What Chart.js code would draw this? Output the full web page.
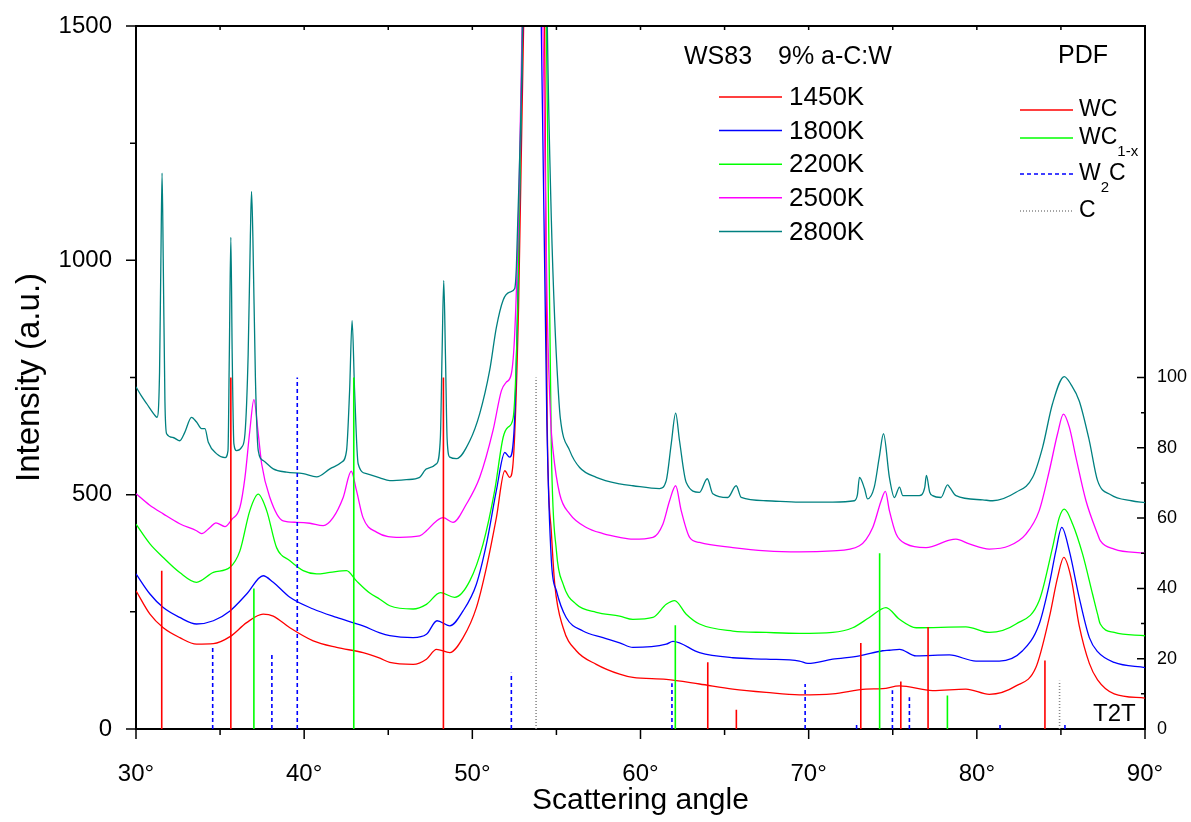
<!DOCTYPE html>
<html>
<head>
<meta charset="utf-8">
<script src="https://cdn.jsdelivr.net/npm/chart.js@4.4.1/dist/chart.umd.min.js"></script>
<style>
  html, body { margin: 0; padding: 0; background: #fff; }
</style>
</head>
<body>
<canvas id="xrd" width="1191" height="822"></canvas>
<script>
// XRD scans, WS83 9% a-C:W, annealed at different temperatures
// [scattering angle (deg), intensity (a.u.)]
const scan1450 = [[30,295],[30.83,245],[31.62,216],[32.6,195],[33.6,181],[34.6,182],[35.59,197],[36.58,227],[37.56,245],[38.16,241],[39.15,216],[40.54,188],[41.93,174],[43.5,163],[44.5,151],[45.09,142],[46.48,138],[47.27,149],[47.87,170],[48.66,163],[49.45,195],[50.24,259],[50.84,345],[51.43,451],[51.93,551],[52.22,537],[52.42,566],[52.75,900],[53.05,1500],[53.3,2400],[53.8,4000],[54.1,2400],[54.3,1500],[54.45,660],[54.7,420],[54.9,309],[55.4,216],[56.18,167],[57.37,138],[58.76,117],[59.55,110],[61.53,106],[63.51,96],[65.49,85],[67.47,78],[69.45,73],[71.43,75],[73.4,85],[74.4,86],[75.4,92],[77.37,82],[79.35,85],[80.74,74],[82.33,92],[83.51,131],[84.31,238],[84.8,323],[85.17,366],[85.6,323],[86.09,220],[86.69,140],[87.18,105],[88.17,75],[90,66]];
const scan1800 = [[30,331],[30.83,288],[31.62,259],[32.6,238],[33.6,224],[34.6,231],[35.59,252],[36.58,288],[37.56,327],[38.16,313],[39.15,281],[40.54,256],[41.93,238],[43.5,220],[44.5,205],[45.09,199],[46.48,195],[47.27,202],[47.9,231],[48.66,220],[49.45,252],[50.24,309],[50.84,395],[51.43,509],[51.93,590],[52.22,580],[52.52,665],[52.75,1000],[53.0,1500],[53.3,2400],[53.7,4000],[53.9,2400],[54.1,1500],[54.43,658],[54.7,359],[55.0,295],[55.58,238],[56.58,209],[57.77,195],[58.76,184],[59.55,174],[61.53,181],[61.93,187],[63.51,163],[65.49,152],[67.47,149],[69.45,145],[69.95,140],[71.43,149],[73.02,156],[74.4,167],[74.8,168],[75.4,170],[76.39,156],[78.37,158],[79.95,145],[81.34,145],[82.72,167],[83.71,224],[84.31,309],[84.7,380],[85.05,430],[85.5,380],[86.09,280],[86.69,195],[87.18,165],[88.17,142],[90,131]];
const scan2200 = [[30,437],[30.83,395],[31.62,366],[32.6,334],[33.6,313],[34.6,334],[35.59,345],[36.18,380],[36.77,466],[37.27,501],[37.77,466],[38.36,387],[39.15,359],[39.94,338],[40.74,331],[41.53,334],[42.52,338],[43.11,316],[43.9,290],[44.5,277],[45.09,263],[46.48,256],[47.27,266],[48.1,291],[48.95,281],[49.85,316],[50.64,395],[51.33,509],[51.83,622],[52.12,644],[52.42,662],[52.7,900],[52.98,1500],[53.2,2400],[53.8,4000],[54.2,2400],[54.4,1500],[54.7,594],[55.0,380],[55.4,309],[56.18,266],[57.37,249],[58.76,241],[59.55,234],[60.74,238],[61.53,266],[62.03,274],[62.72,245],[63.51,224],[65.49,209],[67.47,206],[69.45,204],[71.43,206],[72.62,216],[73.61,238],[74.6,259],[75.4,234],[76.39,216],[79.35,218],[80.74,206],[82.33,224],[83.71,274],[84.5,387],[84.9,451],[85.2,469],[85.7,437],[86.29,373],[86.88,288],[87.18,245],[87.34,224],[88.17,206],[90,199]];
const scan2500 = [[30,502],[30.8,478],[31.62,459],[32.6,438],[33.6,423],[33.9,417],[34.4,430],[34.75,440],[35.29,432],[35.69,447],[36.18,473],[36.48,537],[36.77,637],[37.01,703],[37.27,630],[37.47,566],[37.96,494],[38.75,444],[39.55,441],[40.34,439],[41.13,434],[41.72,451],[42.32,494],[42.8,550],[43.11,509],[43.5,451],[44.3,420],[45.69,409],[46.87,412],[47.27,423],[47.87,444],[48.26,451],[48.85,441],[49.65,480],[50.44,537],[51.23,637],[51.73,722],[52.02,740],[52.32,758],[52.52,844],[52.75,1100],[52.96,1500],[53.2,2400],[53.7,4000],[54.0,2400],[54.2,1500],[54.45,900],[54.66,658],[54.8,594],[55.19,502],[55.79,459],[56.78,430],[57.77,417],[58.76,409],[59.55,405],[60.74,409],[61.33,437],[61.73,487],[62.09,519],[62.42,466],[62.92,409],[63.51,398],[65.49,387],[67.47,380],[69.45,378],[71.43,380],[73.02,391],[73.81,430],[74.31,487],[74.56,507],[74.8,466],[75.2,416],[75.79,395],[76.98,387],[78.37,403],[78.76,405],[79.55,395],[80.74,384],[81.93,391],[82.92,416],[83.71,466],[84.31,551],[84.8,630],[85.15,672],[85.5,644],[85.89,580],[86.49,487],[87.18,416],[87.34,402],[88.17,384],[90,375]];
const scan2800 = [[30,730],[30.3,712],[30.64,694],[31.13,669],[31.25,665],[31.4,760],[31.48,1000],[31.55,1186],[31.62,1000],[31.72,700],[31.82,630],[32.2,622],[32.6,615],[32.9,633],[33.3,665],[33.6,655],[33.9,641],[34.1,641],[34.3,612],[34.8,587],[35.3,579],[35.47,594],[35.55,800],[35.64,1049],[35.72,800],[35.82,609],[35.98,594],[36.28,601],[36.48,630],[36.67,800],[36.8,1050],[36.87,1147],[36.95,1050],[37.1,750],[37.27,594],[37.56,573],[38.16,555],[38.95,548],[39.94,545],[40.74,538],[41.53,555],[42.22,569],[42.52,594],[42.7,720],[42.85,872],[43.0,720],[43.21,566],[43.7,545],[44.5,536],[45.09,530],[46.08,532],[46.87,537],[47.27,555],[47.87,566],[48.1,622],[48.2,800],[48.3,957],[48.4,800],[48.5,620],[48.66,580],[49.06,577],[49.85,615],[50.44,673],[51.03,765],[51.43,857],[51.83,915],[52.22,932],[52.52,940],[52.62,986],[52.8,1200],[52.98,1500],[53.2,2400],[53.7,4000],[54.2,2400],[54.46,1500],[54.7,1085],[54.9,872],[55.1,729],[55.23,664],[55.79,594],[56.38,558],[57.37,537],[58.76,523],[59.55,519],[61.13,513],[61.53,530],[61.83,609],[62.09,674],[62.32,615],[62.72,526],[63.51,505],[63.97,534],[64.3,502],[65.19,494],[65.69,519],[65.99,494],[67.47,487],[69.45,484],[71.43,484],[72.72,487],[72.9,500],[73.02,537],[73.32,513],[73.5,491],[73.9,516],[74.2,580],[74.45,630],[74.8,537],[75.1,494],[75.4,516],[75.6,498],[76.58,498],[76.9,515],[77.0,541],[77.2,505],[77.37,498],[77.87,494],[78.26,521],[78.4,515],[78.76,498],[80.35,489],[80.94,487],[82.33,505],[83.32,537],[83.91,601],[84.5,694],[85.2,752],[85.6,735],[86.09,700],[86.69,615],[87.18,530],[87.96,500],[89.2,487],[90,483]];

// PDF reference lines: [angle, relative intensity (right axis)]
const pdfWC = [[31.53,45],[35.64,100],[48.28,100],[64.0,19],[65.7,5.5],[73.1,24.5],[75.48,13.5],[77.1,29],[84.05,19.5]];
const pdfWC1x = [[37.01,40],[42.95,100],[62.07,29.5],[74.22,50],[78.25,9.5]];
const pdfW2C = [[34.56,23.5],[38.08,21.5],[39.59,100],[52.32,16],[61.87,13],[69.79,12.8],[72.85,1.5],[74.98,11],[75.99,9],[81.38,1.5],[85.24,2]];
const pdfC = [[53.79,100],[84.92,13.7]];

const sampleNames = ['1450K', '1800K', '2200K', '2500K', '2800K'];
const sampleColors = ['#ff0000', '#0000ff', '#00ff00', '#ff00ff', '#008080'];
const scans = [scan1450, scan1800, scan2200, scan2500, scan2800];

const FONT = '"Liberation Sans", Arial, sans-serif';
Chart.defaults.font.family = FONT;
Chart.defaults.color = '#000';

function toPoints(pairs) {
  return pairs.map(p => ({ x: p[0], y: p[1] }));
}

// vertical stick for every reference line, broken by null points
function sticks(pairs) {
  const pts = [];
  pairs.forEach(p => {
    pts.push({ x: p[0], y: 0 }, { x: p[0], y: p[1] }, { x: p[0], y: null });
  });
  return pts;
}

function stickSet(label, pairs, color, dash) {
  return {
    label: label,
    data: sticks(pairs),
    yAxisID: 'y2',
    borderColor: color,
    borderWidth: 1.6,
    borderDash: dash,
    pointRadius: 0,
    tension: 0,
    spanGaps: false
  };
}

const datasets = [
  stickSet('WC', pdfWC, '#ff0000', []),
  stickSet('WC1-x', pdfWC1x, '#00ff00', []),
  stickSet('W2C', pdfW2C, '#0000ff', [4, 3]),
  stickSet('C', pdfC, '#888888', [1, 2])
];
// later scans drawn on top
for (let i = scans.length - 1; i >= 0; i--) {
  datasets.push({
    label: sampleNames[i],
    data: toPoints(scans[i]),
    yAxisID: 'y',
    borderColor: sampleColors[i],
    borderWidth: 1.3,
    pointRadius: 0,
    cubicInterpolationMode: 'monotone'
  });
}

// frame, tick marks and the two hand-made legends
const decorations = {
  id: 'decorations',
  afterDraw(chart) {
    const { ctx, chartArea: a, scales } = chart;
    const xs = scales.x, yl = scales.y, yr = scales.y2;
    ctx.save();
    ctx.strokeStyle = '#000';
    ctx.lineWidth = 2;
    ctx.beginPath();
    ctx.moveTo(a.left - 1, a.top);
    ctx.lineTo(a.right + 1, a.top);
    ctx.stroke();

    ctx.lineWidth = 1.5;
    ctx.beginPath();
    for (let v = 30; v <= 90; v += 5) {
      const px = xs.getPixelForValue(v);
      const len = v % 10 === 0 ? 10 : 6;
      ctx.moveTo(px, a.bottom); ctx.lineTo(px, a.bottom + len);
      if (v > 30 && v < 90) { ctx.moveTo(px, a.top); ctx.lineTo(px, a.top + 4); }
    }
    for (let v = 0; v <= 1500; v += 250) {
      const py = yl.getPixelForValue(v);
      const len = v % 500 === 0 ? 10 : 6;
      ctx.moveTo(a.left, py); ctx.lineTo(a.left - len, py);
    }
    for (let v = 0; v <= 100; v += 10) {
      const py = yr.getPixelForValue(v);
      const len = v % 20 === 0 ? 8 : 4;
      ctx.moveTo(a.right, py); ctx.lineTo(a.right - len, py);
    }
    ctx.stroke();

    // sample legend
    ctx.fillStyle = '#000';
    ctx.textBaseline = 'middle';
    ctx.font = '25px ' + FONT;
    ctx.fillText('WS83', 684, 57);
    ctx.fillText('9% a-C:W', 778, 57);
    ctx.font = '26px ' + FONT;
    sampleNames.forEach((name, i) => {
      const y = 97 + i * 33.6;
      ctx.strokeStyle = sampleColors[i];
      ctx.lineWidth = 1.5;
      ctx.beginPath(); ctx.moveTo(719, y); ctx.lineTo(782, y); ctx.stroke();
      ctx.fillText(name, 789, y + 1);
    });

    // PDF legend
    ctx.font = '25px ' + FONT;
    ctx.fillText('PDF', 1058, 56);
    const pdfItems = [
      { y: 110, color: '#ff0000', dash: [], main: 'WC', sub: '', tail: '' },
      { y: 138, color: '#00ff00', dash: [], main: 'WC', sub: '1-x', tail: '' },
      { y: 174, color: '#0000ff', dash: [4, 3], main: 'W', sub: '2', tail: 'C' },
      { y: 211, color: '#888888', dash: [1, 2], main: 'C', sub: '', tail: '' }
    ];
    pdfItems.forEach(it => {
      ctx.strokeStyle = it.color;
      ctx.lineWidth = 1.5;
      ctx.setLineDash(it.dash);
      ctx.beginPath(); ctx.moveTo(1020, it.y); ctx.lineTo(1073, it.y); ctx.stroke();
      ctx.setLineDash([]);
      ctx.font = '23px ' + FONT;
      ctx.fillText(it.main, 1079, it.y);
      let x = 1079 + ctx.measureText(it.main).width;
      if (it.sub) {
        ctx.font = '15px ' + FONT;
        ctx.fillText(it.sub, x, it.y + 14);
        x += ctx.measureText(it.sub).width;
      }
      if (it.tail) {
        ctx.font = '23px ' + FONT;
        ctx.fillText(it.tail, x, it.y);
      }
    });

    ctx.font = '24px ' + FONT;
    ctx.fillText('T2T', 1093, 714);
    ctx.restore();
  }
};

// no extra room for overhanging tick labels: chart area fixed to the frame
function noPad(s) {
  s.paddingTop = 0; s.paddingBottom = 0; s.paddingLeft = 0; s.paddingRight = 0;
}

new Chart(document.getElementById('xrd'), {
  type: 'line',
  data: { datasets: datasets },
  options: {
    responsive: false,
    animation: false,
    events: [],
    layout: { padding: { top: 26, left: 0, right: 0, bottom: 0 } },
    plugins: { legend: { display: false }, tooltip: { enabled: false } },
    scales: {
      x: {
        type: 'linear',
        min: 30,
        max: 90,
        grid: { display: false, drawTicks: false },
        border: { display: true, color: '#000', width: 2 },
        ticks: {
          stepSize: 10,
          padding: 31,
          font: { size: 24 },
          callback: v => v + '°'
        },
        title: { display: true, text: 'Scattering angle', font: { size: 30 }, padding: { top: 0, bottom: 3 } },
        afterFit: s => { s.height = 93; noPad(s); }
      },
      y: {
        position: 'left',
        min: 0,
        max: 1500,
        grid: { display: false, drawTicks: false },
        border: { display: true, color: '#000', width: 2 },
        ticks: { stepSize: 500, padding: 24, font: { size: 24 }, callback: v => String(v) },
        title: { display: true, text: 'Intensity (a.u.)', font: { size: 33 }, padding: { top: 10, bottom: 0 } },
        afterFit: s => { s.width = 136; noPad(s); }
      },
      y2: {
        position: 'right',
        min: 0,
        max: 200,
        grid: { display: false, drawTicks: false },
        border: { display: true, color: '#000', width: 2 },
        ticks: {
          stepSize: 20,
          padding: 12,
          font: { size: 18 },
          callback: v => (v <= 100 ? String(v) : '')
        },
        afterFit: s => { s.width = 46; noPad(s); }
      }
    }
  },
  plugins: [decorations]
});
</script>
</body>
</html>
